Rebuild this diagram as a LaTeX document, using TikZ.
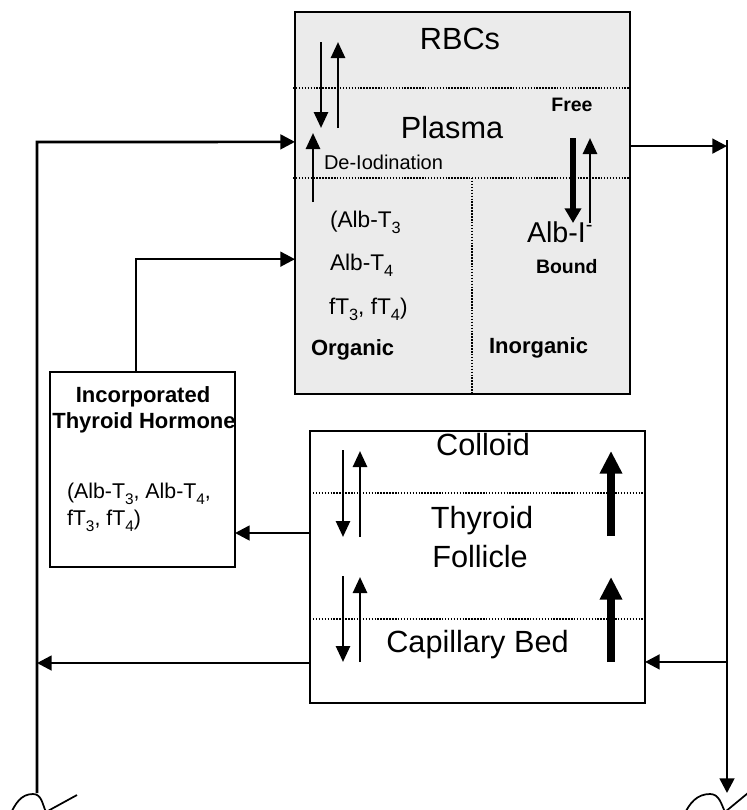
\documentclass[tikz,border=0pt]{standalone}
\usepackage{fontspec}
\setmainfont{Liberation Sans}
\usetikzlibrary{arrows.meta, calc, positioning}
\newcommand{\lowsub}[1]{\raisebox{-0.3em}{\scalebox{0.72}{#1}}}

\begin{document}
\begin{tikzpicture}[
    x=0.75pt, y=-0.75pt,
    every node/.style={inner sep=0pt, outer sep=0pt},
    compartment/.style={
        rectangle,
        draw=black,
        line width=1.5pt
    },
    divider/.style={
        line width=1.3pt,
        dash pattern=on 1.1pt off 1.1pt
    },
    conn/.style={
        line width=2pt
    },
    feed/.style={
        -{Triangle[length=11pt,width=11pt]}
    },
    flow/.style={
        line width=2pt,
        -{Triangle[length=12pt,width=10.5pt]}
    },
    bindflow/.style={
        line width=4.3pt,
        -{Triangle[length=11pt,width=12pt]}
    },
    bulk/.style={
        line width=6.2pt,
        -{Triangle[length=17pt,width=16pt]}
    },
    bigtext/.style={font=\fontsize{23}{27}\selectfont},
    midtext/.style={font=\fontsize{17}{20}\selectfont},
    tagtext/.style={font=\fontsize{14.6}{17}\selectfont\bfseries},
    kindtext/.style={font=\fontsize{16.5}{19}\selectfont\bfseries}
]
\useasboundingbox (0,0) rectangle (746,810);

\node (blood) [compartment, fill=black!8, minimum width=251.25pt, minimum height=286.5pt] at (462.5,203) {};
\node (follicle) [compartment, minimum width=251.25pt, minimum height=204pt] at (477.5,567) {};
\node (hormone) [compartment, minimum width=138.75pt, minimum height=146.25pt] at (142.5,469.5) {};

\draw [divider] (293,88) -- (blood.east |- 0,88);
\draw [divider] (293,178) -- (blood.east |- 0,178);
\draw [divider] (472,178) -- (472,394);
\draw [divider] (follicle.west |- 0,493) -- (follicle.east |- 0,493);
\draw [divider] (follicle.west |- 0,619) -- (follicle.east |- 0,619);

\node (rbc) [bigtext, anchor=base] at (460,49) {RBCs};
\node (plasma) [bigtext, anchor=base] at (452,138) {Plasma};
\node (free) [tagtext, anchor=base] at (572,111) {Free};
\node (deiod) [font=\fontsize{15}{18}\selectfont, anchor=base west] at (324,169) {De-Iodination};
\node (orgA) [midtext, anchor=base west] at (330,227) {(Alb-T\lowsub{3}};
\node (orgB) [midtext, anchor=base west] at (330,270) {Alb-T\lowsub{4}};
\node (orgC) [midtext, anchor=base west] at (329,314) {fT\lowsub{3}, fT\lowsub{4})};
\node (organic) [kindtext, anchor=base west] at (311,355) {Organic};
\node (albI) [font=\fontsize{21.5}{25}\selectfont, anchor=base west] at (527,242) {Alb-I\textsuperscript{-}};
\node (bound) [tagtext, anchor=base west] at (536,273) {Bound};
\node (inorganic) [kindtext, anchor=base west] at (489,353) {Inorganic};

\node (colloid) [bigtext, anchor=base] at (483,455) {Colloid};
\node (thyr) [bigtext, anchor=base] at (482,528) {Thyroid};
\node (foll) [bigtext, anchor=base] at (480,567) {Follicle};
\node (capbed) [bigtext, anchor=base] at (477.5,652) {Capillary Bed};

\node (incA) [kindtext, anchor=base] at (143,402) {Incorporated};
\node (incB) [kindtext, anchor=base] at (144,428) {Thyroid Hormone};
\node (listA) [font=\fontsize{16}{19}\selectfont, anchor=base west] at (67,498) {(Alb-T\lowsub{3}, Alb-T\lowsub{4},};
\node (listB) [font=\fontsize{16}{19}\selectfont, anchor=base west] at (67,525) {fT\lowsub{3}, fT\lowsub{4})};

\draw [flow] (321,42) -- (321,128);
\draw [flow] (338,128) -- (338,42);
\draw [flow] (313,202) -- (313,133);
\draw [bindflow] (573,138) -- (573,223);
\draw [flow] (590,223) -- (590,138);

\draw [flow] (343,450) -- (343,537);
\draw [flow] (360,537) -- (360,451);
\draw [flow] (343,576) -- (343,662);
\draw [flow] (360,662) -- (360,577);
\draw [bulk] (611,536) -- (611,451);
\draw [bulk] (611,662) -- (611,577);

\coordinate (ltop) at (37,142);
\coordinate (lbot) at (37,793);
\coordinate (rtop) at (727,140);
\coordinate (rbot) at (727,793);
\coordinate (bloodin) at ($(blood.north west)!0.340!(blood.south west)$);
\coordinate (organin) at ($(blood.north west)!0.647!(blood.south west)$);
\coordinate (bloodout) at ($(blood.north east)!0.351!(blood.south east)$);
\coordinate (follout) at ($(follicle.north west)!0.375!(follicle.south west)$);
\coordinate (capout) at ($(follicle.north west)!0.853!(follicle.south west)$);
\coordinate (capin) at ($(follicle.north east)!0.849!(follicle.south east)$);

\draw [conn, feed] (lbot) -- (ltop) -- (bloodin);
\draw [conn, feed] ([xshift=-4.9pt]hormone.north) |- (organin);
\draw [conn, feed] (bloodout) -- (bloodout -| rtop);
\draw [conn, feed] (rtop) -- (rbot);
\draw [conn, feed] (capin -| rtop) -- (capin);
\draw [conn, feed] (capout) -- (capout -| lbot);
\draw [conn, feed] (follout) -- (follout -| hormone.east);

\draw [line width=1.3pt] (10,815) to[out=65,in=180] (33,794) to[out=0,in=115] (46,812) -- (77,795);
\draw [line width=1.3pt] (684,815) to[out=65,in=180] (710,794) to[out=0,in=115] (725,812) -- (748,793);

\end{tikzpicture}
\end{document}
